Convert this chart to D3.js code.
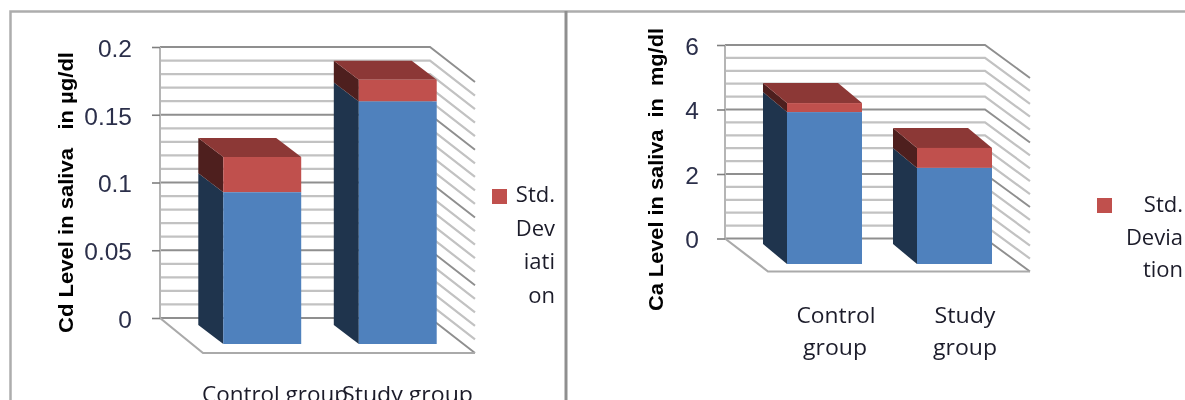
<!DOCTYPE html>
<html lang="en">
<head>
<meta charset="UTF-8">
<title>Cd and Ca level in saliva</title>
<script src="https://cdnjs.cloudflare.com/ajax/libs/d3/7.8.5/d3.min.js"></script>
<style>
  html, body { margin: 0; padding: 0; background: #fff; overflow: hidden; }
  svg { display: block; filter: blur(0.5px); }
  .axis text { font-family: "Liberation Sans", Arial, sans-serif; fill: #2b2f4a; }
  .axis path { display: none; }
  .axis line { stroke: #7f7f7f; stroke-width: 1.6px; }
  .cat, .legend { font-family: "Open Sans", sans-serif; fill: #1c1c2a; }
  .ytitle { font-family: "Liberation Sans", Arial, sans-serif; font-weight: bold; fill: #000; }
</style>
</head>
<body>
<svg id="chart" width="1185" height="400"></svg>
<script>
const categories = ["Control group", "Study group"];

const cdMean = [0.112, 0.179];
const cdDev = [0.026, 0.016];
const cdTicks = [0, 0.05, 0.1, 0.15, 0.2];

const caMean = [4.71, 2.98];
const caDev = [0.28, 0.62];
const caTicks = [0, 2, 4, 6];

const colors = {
  blue: "#4f81bd", blueSide: "#1f344d",
  red: "#c0504d", redSide: "#4e1f1e", redTop: "#8c3836"
};

const svg = d3.select("#chart");

// outer frame and the divider between the two panels
svg.append("path").attr("d", "M10.5,400V11.5H1185").attr("fill", "none").attr("stroke", "#adadad").attr("stroke-width", 2.5);
svg.append("line").attr("x1", 566).attr("x2", 566).attr("y1", 11).attr("y2", 400).attr("stroke", "#8f8f8f").attr("stroke-width", 3);

function draw3dBars(o) {
  const g = svg.append("g");
  const yWall = d3.scaleLinear().domain([0, o.max]).range([o.wallBottom, o.wallTop]);
  const yFront = d3.scaleLinear().domain([0, o.max]).range([o.barBottom, o.barBottom - (o.wallBottom - o.wallTop)]);
  const x = d3.scaleBand().domain(categories).range(o.xRange).paddingInner(o.pad).paddingOuter(o.pad / 2);

  // gridlines on back and side wall
  d3.range(0, o.minorCount + 1).forEach(i => {
    const v = i * o.max / o.minorCount;
    const major = i % o.majorEvery === 0;
    const c = major ? "#8f8f8f" : "#c2c2c2";
    const w = major ? 1.9 : 2.2;
    const y = yWall(v);
    g.append("path")
      .attr("d", `M${o.wallLeft},${y}H${o.wallRight}L${o.wallRight + o.depthX},${y + o.depthY}`)
      .attr("fill", "none").attr("stroke", c).attr("stroke-width", w);
  });
  g.append("line").attr("x1", o.wallLeft).attr("x2", o.wallLeft)
    .attr("y1", o.wallTop).attr("y2", o.wallBottom).attr("stroke", "#b5b5b5").attr("stroke-width", 2);

  // floor edges
  g.append("path")
    .attr("d", `M${o.wallLeft},${o.wallBottom}L${o.wallLeft + o.depthX - 2},${o.wallBottom + o.depthY}H${o.wallRight + o.depthX}`)
    .attr("fill", "none").attr("stroke", "#aaaaaa").attr("stroke-width", 2.2);

  // bars
  categories.forEach((c, i) => {
    const x0 = x(c), bw = x.bandwidth();
    const yb = yFront(0), ym = yFront(o.mean[i]), yt = yFront(o.mean[i] + o.dev[i]);
    const dx = o.barDX, dy = o.barDY;
    g.append("polygon").attr("fill", colors.blueSide)
      .attr("points", [[x0, yb], [x0 - dx, yb - dy], [x0 - dx, ym - dy], [x0, ym]].join(" "));
    g.append("polygon").attr("fill", colors.redSide)
      .attr("points", [[x0, ym], [x0 - dx, ym - dy], [x0 - dx, yt - dy], [x0, yt]].join(" "));
    g.append("polygon").attr("fill", colors.redTop)
      .attr("points", [[x0, yt], [x0 - dx, yt - dy], [x0 + bw - dx, yt - dy], [x0 + bw, yt]].join(" "));
    g.append("rect").attr("fill", colors.red)
      .attr("x", x0).attr("y", yt).attr("width", bw).attr("height", ym - yt);
    g.append("rect").attr("fill", colors.blue)
      .attr("x", x0).attr("y", ym).attr("width", bw).attr("height", yb - ym);
  });

  // value axis
  const axis = g.append("g").attr("class", "axis")
    .attr("transform", `translate(${o.wallLeft},0)`)
    .call(d3.axisLeft(yWall).tickValues(o.ticks).tickSize(8).tickPadding(o.tickPad).tickFormat(d => String(d)));
  axis.selectAll("text").style("font-size", o.tickFont + "px").attr("dy", "0.38em");

  // axis title
  g.append("text").attr("class", "ytitle")
    .attr("transform", `translate(${o.titleX},${o.titleBottom}) rotate(-90)`)
    .attr("textLength", o.titleLen).attr("lengthAdjust", "spacingAndGlyphs")
    .style("font-size", "21px").style("white-space", "pre")
    .text(o.title);

  // category labels
  o.catLabels.forEach(l => {
    g.append("text").attr("class", "cat")
      .attr("x", l.x).attr("y", l.y).attr("text-anchor", l.anchor)
      .attr("textLength", l.len).attr("lengthAdjust", "spacingAndGlyphs")
      .style("font-size", "21.5px").text(l.text);
  });

  // legend
  g.append("rect").attr("fill", colors.red)
    .attr("x", o.legendX).attr("y", o.legendY).attr("width", 15).attr("height", 15);
  o.legendLines.forEach((t, i) => {
    g.append("text").attr("class", "legend")
      .attr("x", o.legendRight).attr("y", o.legendBase + i * o.legendStep)
      .attr("text-anchor", "end").style("font-size", "22px").text(t);
  });
}

draw3dBars({
  mean: cdMean, dev: cdDev, ticks: cdTicks, max: 0.2,
  minorCount: 20, majorEvery: 5,
  wallLeft: 160, wallRight: 430, wallTop: 47, wallBottom: 318,
  depthX: 45, depthY: 35, barBottom: 344, barDX: 25, barDY: 19,
  xRange: [194.5, 465.5], pad: 0.425,
  tickPad: 20, tickFont: 24.5,
  title: "Cd Level in saliva   in µg/dl", titleX: 73, titleBottom: 333, titleLen: 281,
  catLabels: [
    { text: "Control group", x: 202, y: 402, anchor: "start", len: 146 },
    { text: "Study group", x: 342, y: 402, anchor: "start", len: 131 }
  ],
  legendX: 492, legendY: 189, legendRight: 555, legendBase: 202, legendStep: 33.5,
  legendLines: ["Std.", "Dev", "iati", "on"]
});

draw3dBars({
  mean: caMean, dev: caDev, ticks: caTicks, max: 6,
  minorCount: 15, majorEvery: 5,
  wallLeft: 725, wallRight: 985, wallTop: 45, wallBottom: 238.5,
  depthX: 45, depthY: 33, barBottom: 264, barDX: 24, barDY: 20,
  xRange: [759.5, 1019.5], pad: 0.423,
  tickPad: 18, tickFont: 24.5,
  title: "Ca Level in saliva  in  mg/dl", titleX: 663, titleBottom: 311, titleLen: 283,
  catLabels: [
    { text: "Control", x: 836, y: 323, anchor: "middle", len: 79 },
    { text: "group", x: 835, y: 355, anchor: "middle", len: 64 },
    { text: "Study", x: 965, y: 323, anchor: "middle", len: 61 },
    { text: "group", x: 965, y: 355, anchor: "middle", len: 64 }
  ],
  legendX: 1097, legendY: 198, legendRight: 1183, legendBase: 212, legendStep: 32.5,
  legendLines: ["Std.", "Devia", "tion"]
});
</script>
</body>
</html>
